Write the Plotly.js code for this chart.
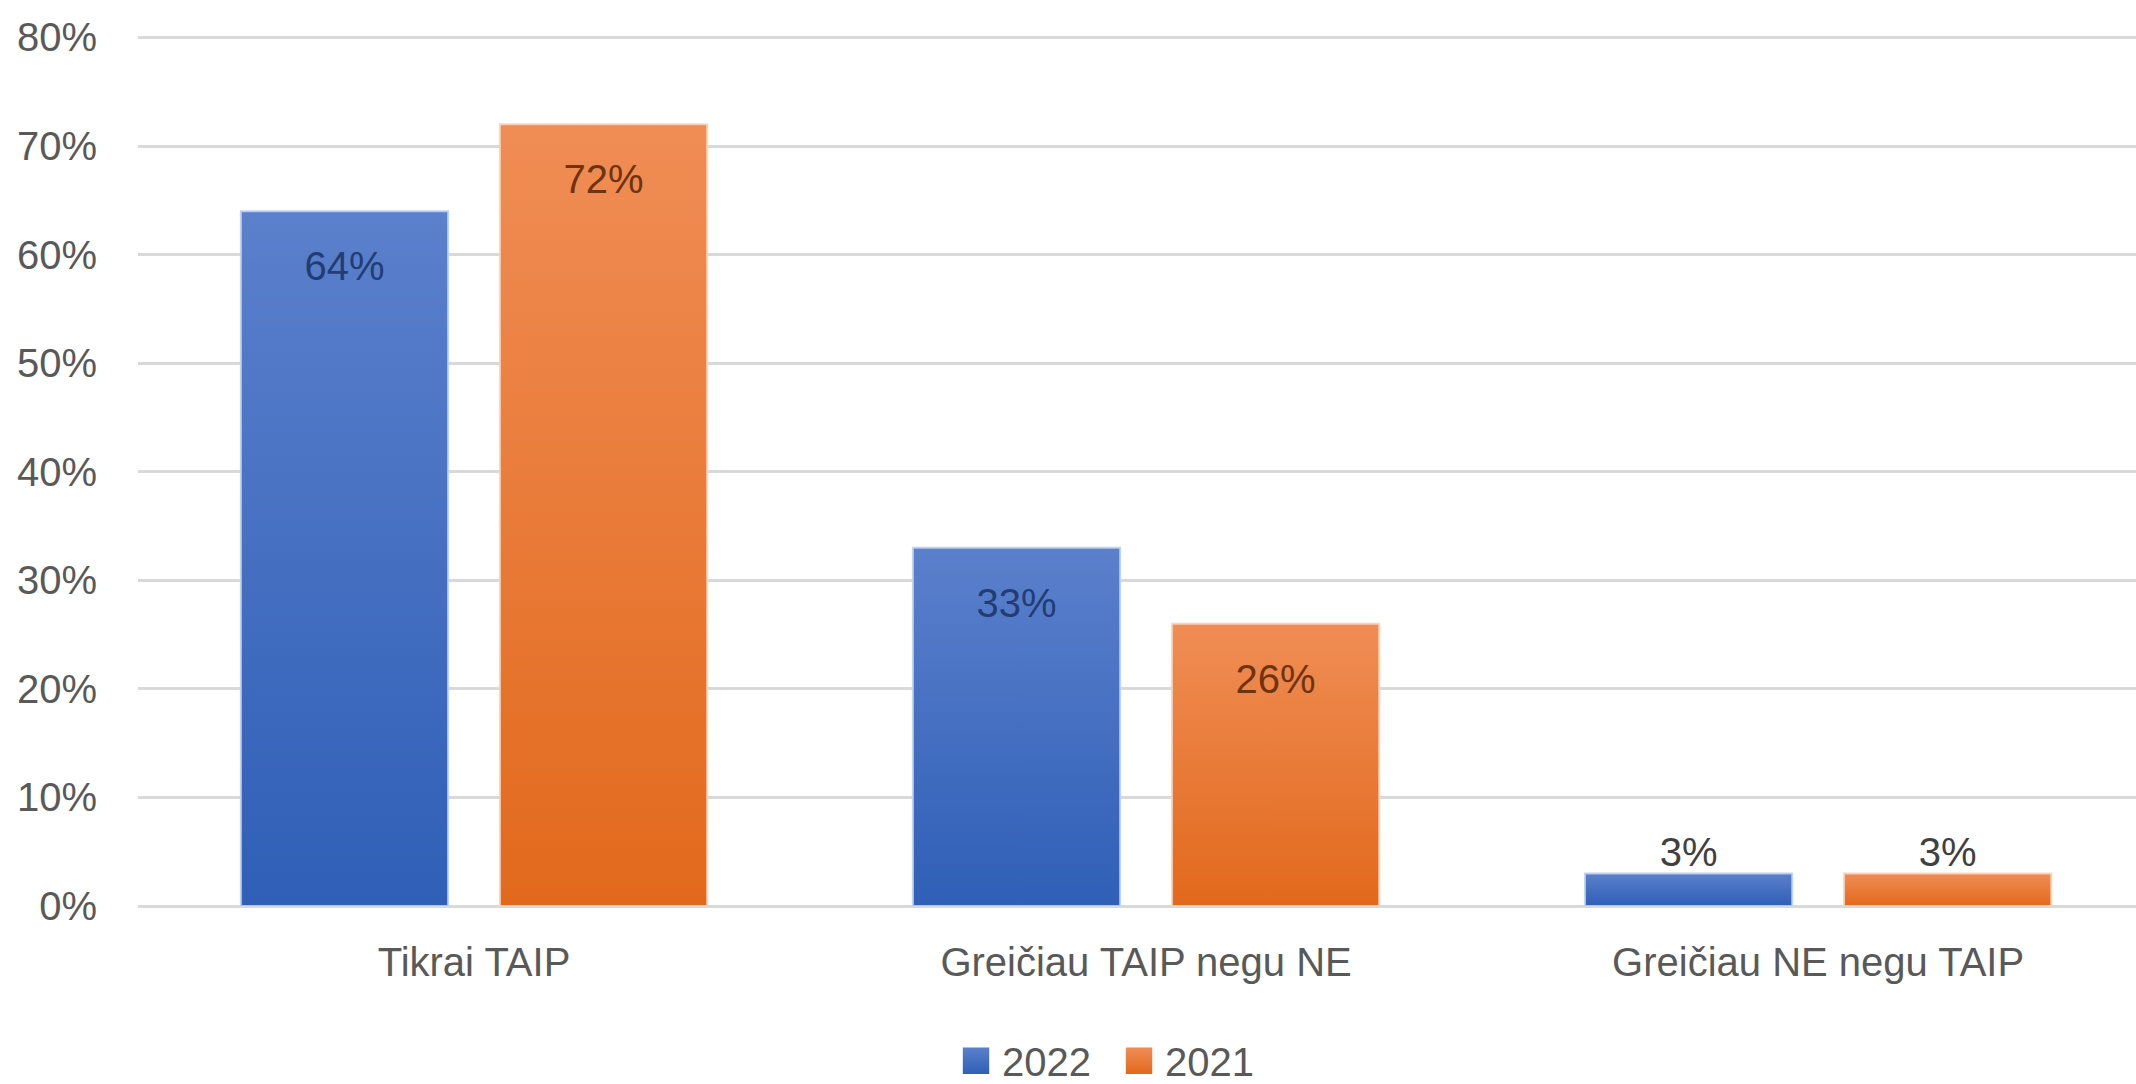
<!DOCTYPE html>
<html>
<head>
<meta charset="utf-8">
<script src="https://cdn.plot.ly/plotly-3.0.1.min.js"></script>
<style>
  html, body { margin: 0; padding: 0; background: #ffffff; }
  #chart { width: 2136px; height: 1084px; }
</style>
</head>
<body>
<div id="chart"></div>
<script>
// ---- data ----
const categories = ["Tikrai TAIP", "Greičiau TAIP negu NE", "Greičiau NE negu TAIP"];
const values2022 = [64, 33, 3];
const values2021 = [72, 26, 3];
const seriesNames = ["2022", "2021"];
const yTickValues = [0, 10, 20, 30, 40, 50, 60, 70, 80];
const yTickLabels = ["0%", "10%", "20%", "30%", "40%", "50%", "60%", "70%", "80%"];

const FONT = "Liberation Sans, Arial, sans-serif";
const BLUE = "#4472C4";
const ORANGE = "#ED7D31";

function barTrace(name, vals, color, insideColor, glow) {
  return {
    type: "bar",
    name: name,
    x: categories,
    y: vals,
    marker: { color: color, line: { color: glow, width: 2 } },
    text: vals.map(v => v + "%"),
    textposition: "auto",
    insidetextanchor: "end",
    textangle: 0,
    insidetextfont: { family: FONT, size: 40, color: insideColor },
    outsidetextfont: { family: FONT, size: 40, color: "#404040" },
    constraintext: "none",
    cliponaxis: false,
    hoverinfo: "skip"
  };
}

const data = [
  barTrace(seriesNames[0], values2022, BLUE, "#223D74", "rgba(190,208,240,0.9)"),
  barTrace(seriesNames[1], values2021, ORANGE, "#6E3412", "rgba(250,210,185,0.9)")
];

const layout = {
  width: 2136,
  height: 1084,
  margin: { l: 138, r: 0, t: 32, b: 178, pad: 0, autoexpand: false },
  paper_bgcolor: "#ffffff",
  plot_bgcolor: "#ffffff",
  font: { family: FONT, size: 40, color: "#595959" },
  barmode: "group",
  bargap: 0.229,
  bargroupgap: 0.2,
  showlegend: true,
  legend: {
    orientation: "h",
    x: 0.494,
    xanchor: "center",
    y: -0.177,
    yanchor: "middle",
    entrywidth: 118,
    entrywidthmode: "pixels",
    font: { family: FONT, size: 40, color: "#595959" },
    itemclick: false,
    itemdoubleclick: false
  },
  xaxis: {
    type: "category",
    range: [-0.5, 2.473],
    showgrid: false,
    zeroline: false,
    showline: false,
    ticks: "",
    ticklabelstandoff: 29,
    tickfont: { family: FONT, size: 40, color: "#595959" },
    fixedrange: true
  },
  yaxis: {
    range: [0, 80.5],
    tickvals: yTickValues,
    ticktext: yTickLabels,
    showgrid: true,
    gridcolor: "#D9D9D9",
    gridwidth: 3,
    zeroline: true,
    zerolinecolor: "#D9D9D9",
    zerolinewidth: 3,
    showline: false,
    ticks: "",
    ticklabelstandoff: 40,
    tickfont: { family: FONT, size: 40, color: "#595959" },
    fixedrange: true
  }
};

Plotly.newPlot("chart", data, layout, { displayModeBar: false, staticPlot: true }).then(gd => {
  const svg = gd.querySelector("svg.main-svg");
  const ns = "http://www.w3.org/2000/svg";
  let defs = svg.querySelector("defs");
  if (!defs) { defs = document.createElementNS(ns, "defs"); svg.insertBefore(defs, svg.firstChild); }
  function addGrad(id, top, bottom) {
    const g = document.createElementNS(ns, "linearGradient");
    g.setAttribute("id", id);
    g.setAttribute("x1", "0"); g.setAttribute("y1", "0");
    g.setAttribute("x2", "0"); g.setAttribute("y2", "1");
    const s1 = document.createElementNS(ns, "stop");
    s1.setAttribute("offset", "0"); s1.setAttribute("stop-color", top);
    const s2 = document.createElementNS(ns, "stop");
    s2.setAttribute("offset", "1"); s2.setAttribute("stop-color", bottom);
    g.appendChild(s1); g.appendChild(s2);
    defs.appendChild(g);
  }
  addGrad("gBlue", "#5B80CC", "#2F5FB7");
  addGrad("gOrange", "#F08D55", "#E2691C");
  const grads = ["url(#gBlue)", "url(#gOrange)"];
  gd.querySelectorAll(".barlayer .trace.bars").forEach((tr, i) => {
    tr.querySelectorAll(".point path").forEach(p => { p.style.fill = grads[i % 2]; });
  });
  // Excel "inside end" labels sit a bit lower than Plotly's default inside padding
  gd.querySelectorAll(".barlayer .bartext-inside").forEach(t => {
    const tr = t.getAttribute("transform") || "";
    t.setAttribute("transform", "translate(0,30) " + tr);
  });
  gd.querySelectorAll(".barlayer .bartext-outside").forEach(t => {
    const tr = t.getAttribute("transform") || "";
    t.setAttribute("transform", "translate(0,4) " + tr);
  });
  gd.querySelectorAll(".legend .legendpoints path").forEach((p, i) => {
    const t = p.getAttribute("transform") || "";
    p.setAttribute("transform", "translate(-6,0) " + t + " scale(2.2)");
    p.style.fill = grads[i % 2];
    p.style.strokeWidth = "0";
  });
});
</script>
</body>
</html>
